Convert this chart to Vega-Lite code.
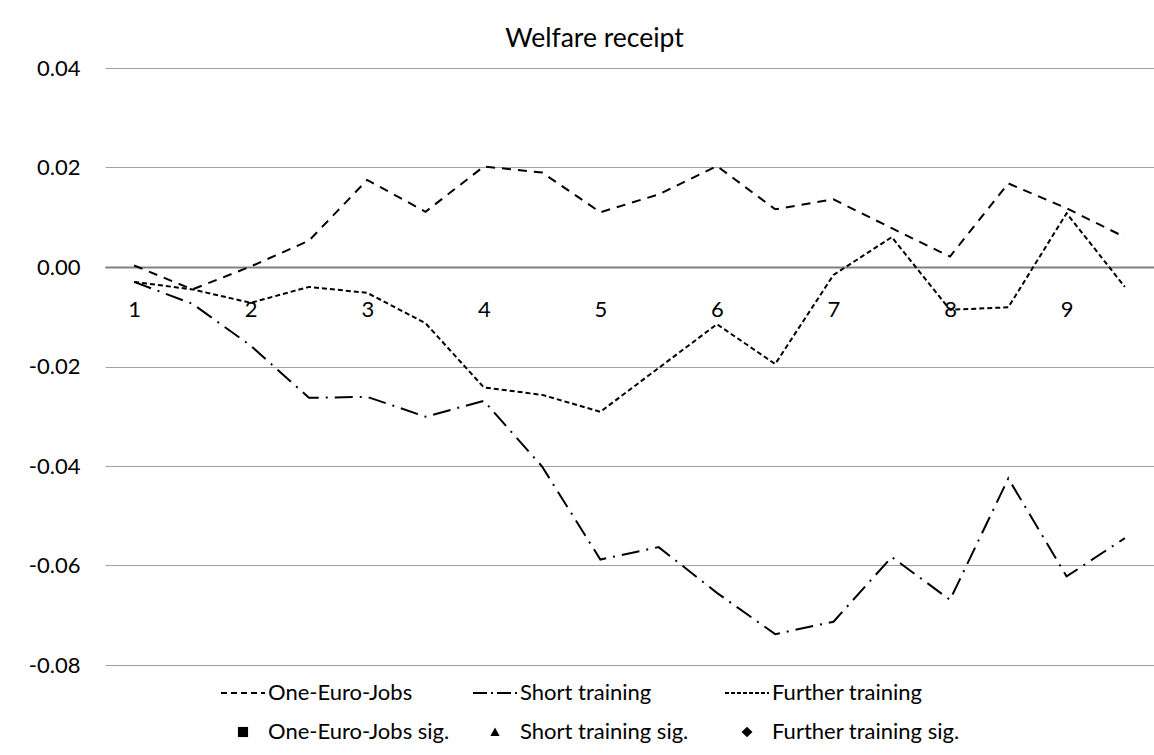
{
  "$schema": "https://vega.github.io/schema/vega-lite/v6.json",
  "width": 1049,
  "height": 597,
  "autosize": {"type": "none"},
  "padding": {"left": 105, "top": 68, "right": 0, "bottom": 90},
  "background": "white",
  "title": {"text": "Welfare receipt", "anchor": "middle", "frame": "group", "dx": -35, "dy": 26, "fontSize": 26.5, "font": "Lato", "fontWeight": "normal", "color": "#000000", "offset": 10, "baseline": "alphabetic"},
  "config": {
    "view": {"stroke": null},
    "font": "Lato"
  },
  "datasets": {
    "d": [
      {"t": 1.0, "series": "One-Euro-Jobs", "value": 0.0003, "sig": false},
      {"t": 1.5, "series": "One-Euro-Jobs", "value": -0.0045, "sig": false},
      {"t": 2.0, "series": "One-Euro-Jobs", "value": 0.0001, "sig": false},
      {"t": 2.5, "series": "One-Euro-Jobs", "value": 0.0053, "sig": false},
      {"t": 3.0, "series": "One-Euro-Jobs", "value": 0.0175, "sig": false},
      {"t": 3.5, "series": "One-Euro-Jobs", "value": 0.0111, "sig": false},
      {"t": 4.0, "series": "One-Euro-Jobs", "value": 0.0202, "sig": false},
      {"t": 4.5, "series": "One-Euro-Jobs", "value": 0.0190, "sig": false},
      {"t": 5.0, "series": "One-Euro-Jobs", "value": 0.0110, "sig": false},
      {"t": 5.5, "series": "One-Euro-Jobs", "value": 0.0146, "sig": false},
      {"t": 6.0, "series": "One-Euro-Jobs", "value": 0.0203, "sig": false},
      {"t": 6.5, "series": "One-Euro-Jobs", "value": 0.0116, "sig": false},
      {"t": 7.0, "series": "One-Euro-Jobs", "value": 0.0136, "sig": false},
      {"t": 7.5, "series": "One-Euro-Jobs", "value": 0.0078, "sig": false},
      {"t": 8.0, "series": "One-Euro-Jobs", "value": 0.0021, "sig": false},
      {"t": 8.5, "series": "One-Euro-Jobs", "value": 0.0168, "sig": false},
      {"t": 9.0, "series": "One-Euro-Jobs", "value": 0.0118, "sig": false},
      {"t": 9.5, "series": "One-Euro-Jobs", "value": 0.0060, "sig": false},
      {"t": 1.0, "series": "Short training", "value": -0.0030, "sig": false},
      {"t": 1.5, "series": "Short training", "value": -0.0074, "sig": false},
      {"t": 2.0, "series": "Short training", "value": -0.0158, "sig": false},
      {"t": 2.5, "series": "Short training", "value": -0.0263, "sig": false},
      {"t": 3.0, "series": "Short training", "value": -0.0261, "sig": false},
      {"t": 3.5, "series": "Short training", "value": -0.0301, "sig": false},
      {"t": 4.0, "series": "Short training", "value": -0.0269, "sig": false},
      {"t": 4.5, "series": "Short training", "value": -0.0401, "sig": false},
      {"t": 5.0, "series": "Short training", "value": -0.0588, "sig": false},
      {"t": 5.5, "series": "Short training", "value": -0.0563, "sig": false},
      {"t": 6.0, "series": "Short training", "value": -0.0655, "sig": false},
      {"t": 6.5, "series": "Short training", "value": -0.0738, "sig": false},
      {"t": 7.0, "series": "Short training", "value": -0.0713, "sig": false},
      {"t": 7.5, "series": "Short training", "value": -0.0583, "sig": false},
      {"t": 8.0, "series": "Short training", "value": -0.0669, "sig": false},
      {"t": 8.5, "series": "Short training", "value": -0.0425, "sig": false},
      {"t": 9.0, "series": "Short training", "value": -0.0622, "sig": false},
      {"t": 9.5, "series": "Short training", "value": -0.0545, "sig": false},
      {"t": 1.0, "series": "Further training", "value": -0.0030, "sig": false},
      {"t": 1.5, "series": "Further training", "value": -0.0045, "sig": false},
      {"t": 2.0, "series": "Further training", "value": -0.0072, "sig": false},
      {"t": 2.5, "series": "Further training", "value": -0.0040, "sig": false},
      {"t": 3.0, "series": "Further training", "value": -0.0052, "sig": false},
      {"t": 3.5, "series": "Further training", "value": -0.0113, "sig": false},
      {"t": 4.0, "series": "Further training", "value": -0.0242, "sig": false},
      {"t": 4.5, "series": "Further training", "value": -0.0257, "sig": false},
      {"t": 5.0, "series": "Further training", "value": -0.0291, "sig": false},
      {"t": 5.5, "series": "Further training", "value": -0.0203, "sig": false},
      {"t": 6.0, "series": "Further training", "value": -0.0115, "sig": false},
      {"t": 6.5, "series": "Further training", "value": -0.0195, "sig": false},
      {"t": 7.0, "series": "Further training", "value": -0.0016, "sig": false},
      {"t": 7.5, "series": "Further training", "value": 0.0060, "sig": false},
      {"t": 8.0, "series": "Further training", "value": -0.0086, "sig": false},
      {"t": 8.5, "series": "Further training", "value": -0.0081, "sig": false},
      {"t": 9.0, "series": "Further training", "value": 0.0108, "sig": false},
      {"t": 9.5, "series": "Further training", "value": -0.0040, "sig": false}
    ]
  },
  "data": {"name": "d"},
  "encoding": {
    "x": {
      "field": "t", "type": "quantitative",
      "scale": {"domain": [0.75, 9.75], "nice": false, "zero": false},
      "axis": {"values": [1, 2, 3, 4, 5, 6, 7, 8, 9], "format": "d", "title": null, "grid": false, "ticks": false, "labelFlush": false, "labelFontSize": 22, "labelFont": "Lato", "labelColor": "#000000", "labelPadding": 32, "offset": -398, "domainColor": "#808080", "domainWidth": 2}
    },
    "y": {
      "field": "value", "type": "quantitative",
      "scale": {"domain": [-0.08, 0.04], "nice": false, "zero": false},
      "axis": {"values": [-0.08, -0.06, -0.04, -0.02, 0, 0.02, 0.04], "labelExpr": "(datum.value < -0.00001 ? '-' : '') + format(abs(datum.value), '.2f')", "title": null, "domain": false, "ticks": false, "gridColor": "#a0a0a0", "gridWidth": 1, "labelPadding": 25, "labelFontSize": 22, "labelFont": "Lato", "labelColor": "#000000"}
    }
  },
  "layer": [
    {
      "transform": [{"filter": "datum.series === 'One-Euro-Jobs'"}],
      "mark": {"type": "line", "color": "black", "strokeWidth": 2, "strokeDash": [9, 7]}
    },
    {
      "transform": [{"filter": "datum.series === 'Short training'"}],
      "mark": {"type": "line", "color": "black", "strokeWidth": 2, "strokeDash": [18, 7, 2, 7]}
    },
    {
      "transform": [{"filter": "datum.series === 'Further training'"}],
      "mark": {"type": "line", "color": "black", "strokeWidth": 2, "strokeDash": [5, 3]}
    },
    {
      "transform": [{"filter": "datum.sig === true"}],
      "mark": {"type": "point", "size": 1936, "strokeWidth": 2, "opacity": 1},
      "encoding": {
        "shape": {
          "field": "series", "type": "nominal",
          "scale": {"domain": ["One-Euro-Jobs", "Short training", "Further training", "One-Euro-Jobs sig.", "Short training sig.", "Further training sig."],
                    "range": ["stroke", "stroke", "stroke", "M-0.23,-0.23L0.23,-0.23L0.23,0.23L-0.23,0.23Z", "M0,-0.2L0.21,0.18L-0.21,0.18Z", "M0,-0.24L0.25,0L0,0.24L-0.25,0Z"]},
          "legend": {"title": null, "orient": "none", "legendX": 115, "legendY": 602, "direction": "horizontal", "columns": 3, "gridAlign": "all", "labelFontSize": 22, "labelFont": "Lato", "labelColor": "#000000", "labelLimit": 400, "symbolSize": 1936, "symbolStrokeWidth": 2, "symbolOpacity": 1, "labelOffset": 2, "columnPadding": 13, "rowPadding": 5, "padding": 0}
        },
        "strokeDash": {
          "field": "series", "type": "nominal",
          "scale": {"domain": ["One-Euro-Jobs", "Short training", "Further training", "One-Euro-Jobs sig.", "Short training sig.", "Further training sig."],
                    "range": [[6, 4], [14, 4, 2, 4], [4, 2], [1, 0], [1, 0], [1, 0]]}
        },
        "fill": {
          "field": "series", "type": "nominal",
          "scale": {"domain": ["One-Euro-Jobs", "Short training", "Further training", "One-Euro-Jobs sig.", "Short training sig.", "Further training sig."],
                    "range": ["transparent", "transparent", "transparent", "black", "black", "black"]}
        },
        "stroke": {
          "field": "series", "type": "nominal",
          "scale": {"domain": ["One-Euro-Jobs", "Short training", "Further training", "One-Euro-Jobs sig.", "Short training sig.", "Further training sig."],
                    "range": ["black", "black", "black", "transparent", "transparent", "transparent"]}
        }
      }
    }
  ]
}
